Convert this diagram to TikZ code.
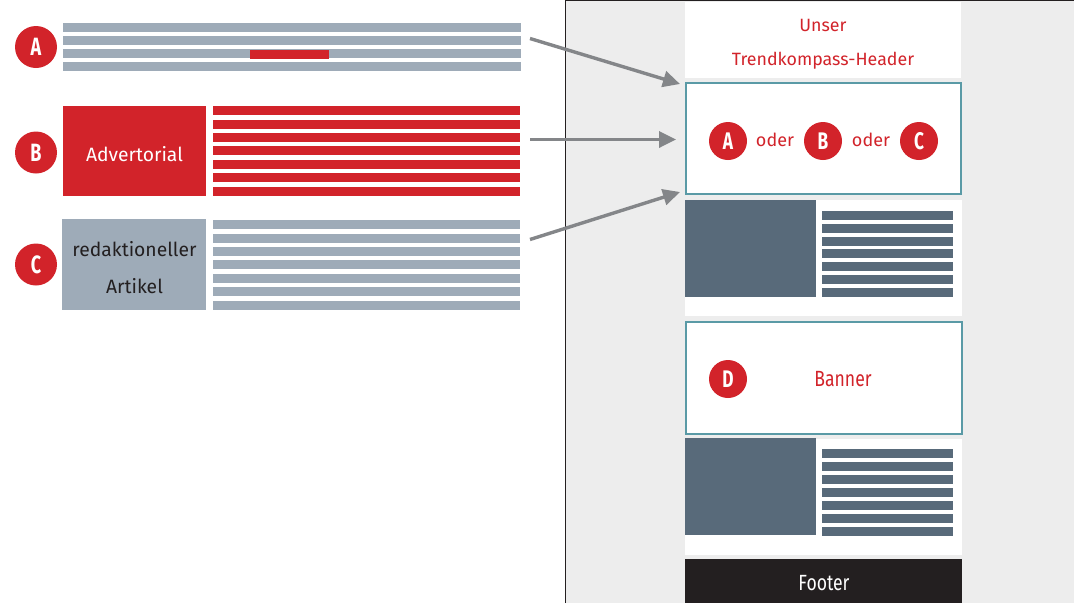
\documentclass[tikz,border=0pt]{standalone}
\usepackage{fontspec}
\usetikzlibrary{arrows.meta}
\setmainfont{Fira Sans}
\newfontfamily\narrowf[FakeStretch=0.8]{Fira Sans}
\newfontfamily\boldf[FakeStretch=0.72]{Fira Sans}
\definecolor{brandred}{HTML}{D2232A}
\definecolor{bargray}{HTML}{9EABB8}
\definecolor{slate}{HTML}{586A7A}
\definecolor{tealline}{HTML}{5A9AA6}
\definecolor{arrowgray}{HTML}{848689}
\definecolor{panelgray}{HTML}{EDEDED}
\definecolor{footerblack}{HTML}{231F20}
\tikzset{
  x=1pt,y=-1pt,
  badgeL/.style={circle,fill=brandred,minimum size=42pt,inner sep=0pt,text=white,font=\boldf\bfseries\fontsize{25}{27}\selectfont},
  badgeS/.style={circle,fill=brandred,minimum size=38pt,inner sep=0pt,text=white,font=\boldf\bfseries\fontsize{24}{26}\selectfont},
  redtext/.style={text=brandred,inner sep=0pt,font=\fontsize{17.8}{20}\selectfont},
  flow/.style={draw=arrowgray,line width=3.4pt,-{Triangle[length=17pt,width=16pt]},shorten >=0pt},
  frame/.style={draw=tealline,line width=2pt,fill=white,rectangle,inner sep=0pt}
}
\newcommand{\barrow}[4]{\foreach \ya in {#3}{\fill[#4] (#1,\ya) rectangle (#2,\ya+9);}}
\begin{document}
\begin{tikzpicture}
\useasboundingbox (0,0) rectangle (1074,603);
% panel
\fill[panelgray] (565,0) rectangle (1074,603);
\draw[footerblack,line width=1.3pt] (565.5,603) -- (565.5,0.5) -- (1074,0.5);
% left A
\barrow{63}{521}{23,36,49,62}{bargray}
\fill[brandred] (250,50) rectangle (329,59);
\node[badgeL] (a) at (36,47) {A};
% left B
\node[rectangle,fill=brandred,minimum width=143pt,minimum height=90pt,inner sep=0pt] (adv) at (134.5,151) {};
\node[inner sep=0pt,text=white,font=\fontsize{19.3}{22}\selectfont] (advt) at (134.5,154) {Advertorial};
\barrow{213}{520}{106,120,133,146,160,173,187}{brandred}
\node[badgeL] (b) at (36,152.5) {B};
% left C
\node[rectangle,fill=bargray,minimum width=144pt,minimum height=91pt,inner sep=0pt] (art) at (134,264.5) {};
\node[inner sep=0pt,text=footerblack,font=\fontsize{19.3}{22}\selectfont] (art1) at (134.5,249) {redaktioneller};
\node[inner sep=0pt,text=footerblack,font=\fontsize{19.3}{22}\selectfont] (art2) at (134.5,286) {Artikel};
\barrow{213}{520}{220,234,247,260,274,287,301}{bargray}
\node[badgeL] (c) at (36,264.5) {C};
% column
\fill[white] (685,2) rectangle (961,78);
\node[redtext] (unser) at (823,25) {Unser};
\node[redtext] (trend) at (823,61) {Trendkompass-Header};
\node[frame,minimum width=275pt,minimum height=110.5pt] (slot) at (823,138.5) {};
\node[badgeS] (a2) at (728,141) {A};
\node[redtext,font=\fontsize{18}{20}\selectfont] (od1) at (775,140) {oder};
\node[badgeS] (b2) at (823,141) {B};
\node[redtext,font=\fontsize{18}{20}\selectfont] (od2) at (871,140) {oder};
\node[badgeS] (c2) at (919,141) {C};
% teaser 1
\fill[white] (685,200) rectangle (962,316);
\fill[slate] (685,200) rectangle (816,297);
\barrow{822}{953}{211,224,237,249,262,275,288}{slate}
% banner
\node[frame,minimum width=276pt,minimum height=112pt] (banner) at (823.5,377.5) {};
\node[badgeS] (d) at (728,379) {D};
\node[redtext,font=\narrowf\fontsize{22}{24}\selectfont] (bt) at (843,379) {Banner};
% teaser 2
\fill[white] (685,439) rectangle (962,555);
\fill[slate] (685,438) rectangle (816,535);
\barrow{822}{953}{449,462,475,488,501,514,527}{slate}
% footer
\node[rectangle,fill=footerblack,minimum width=277pt,minimum height=44pt,inner sep=0pt] (foot) at (823.5,581) {};
\node[inner sep=0pt,text=white,font=\narrowf\fontsize{22}{24}\selectfont] (ft) at (824,583) {Footer};
% arrows
\coordinate (sa) at (530,38.5);
\coordinate (sb) at (530,139.5);
\coordinate (sc) at (530,239.5);
\coordinate (ta) at (680,84);
\coordinate (tb) at (676,139.5);
\coordinate (tc) at (680,192);
\draw[flow] (sa) -- (ta);
\draw[flow] (sb) -- (tb);
\draw[flow] (sc) -- (tc);
\end{tikzpicture}
\end{document}
